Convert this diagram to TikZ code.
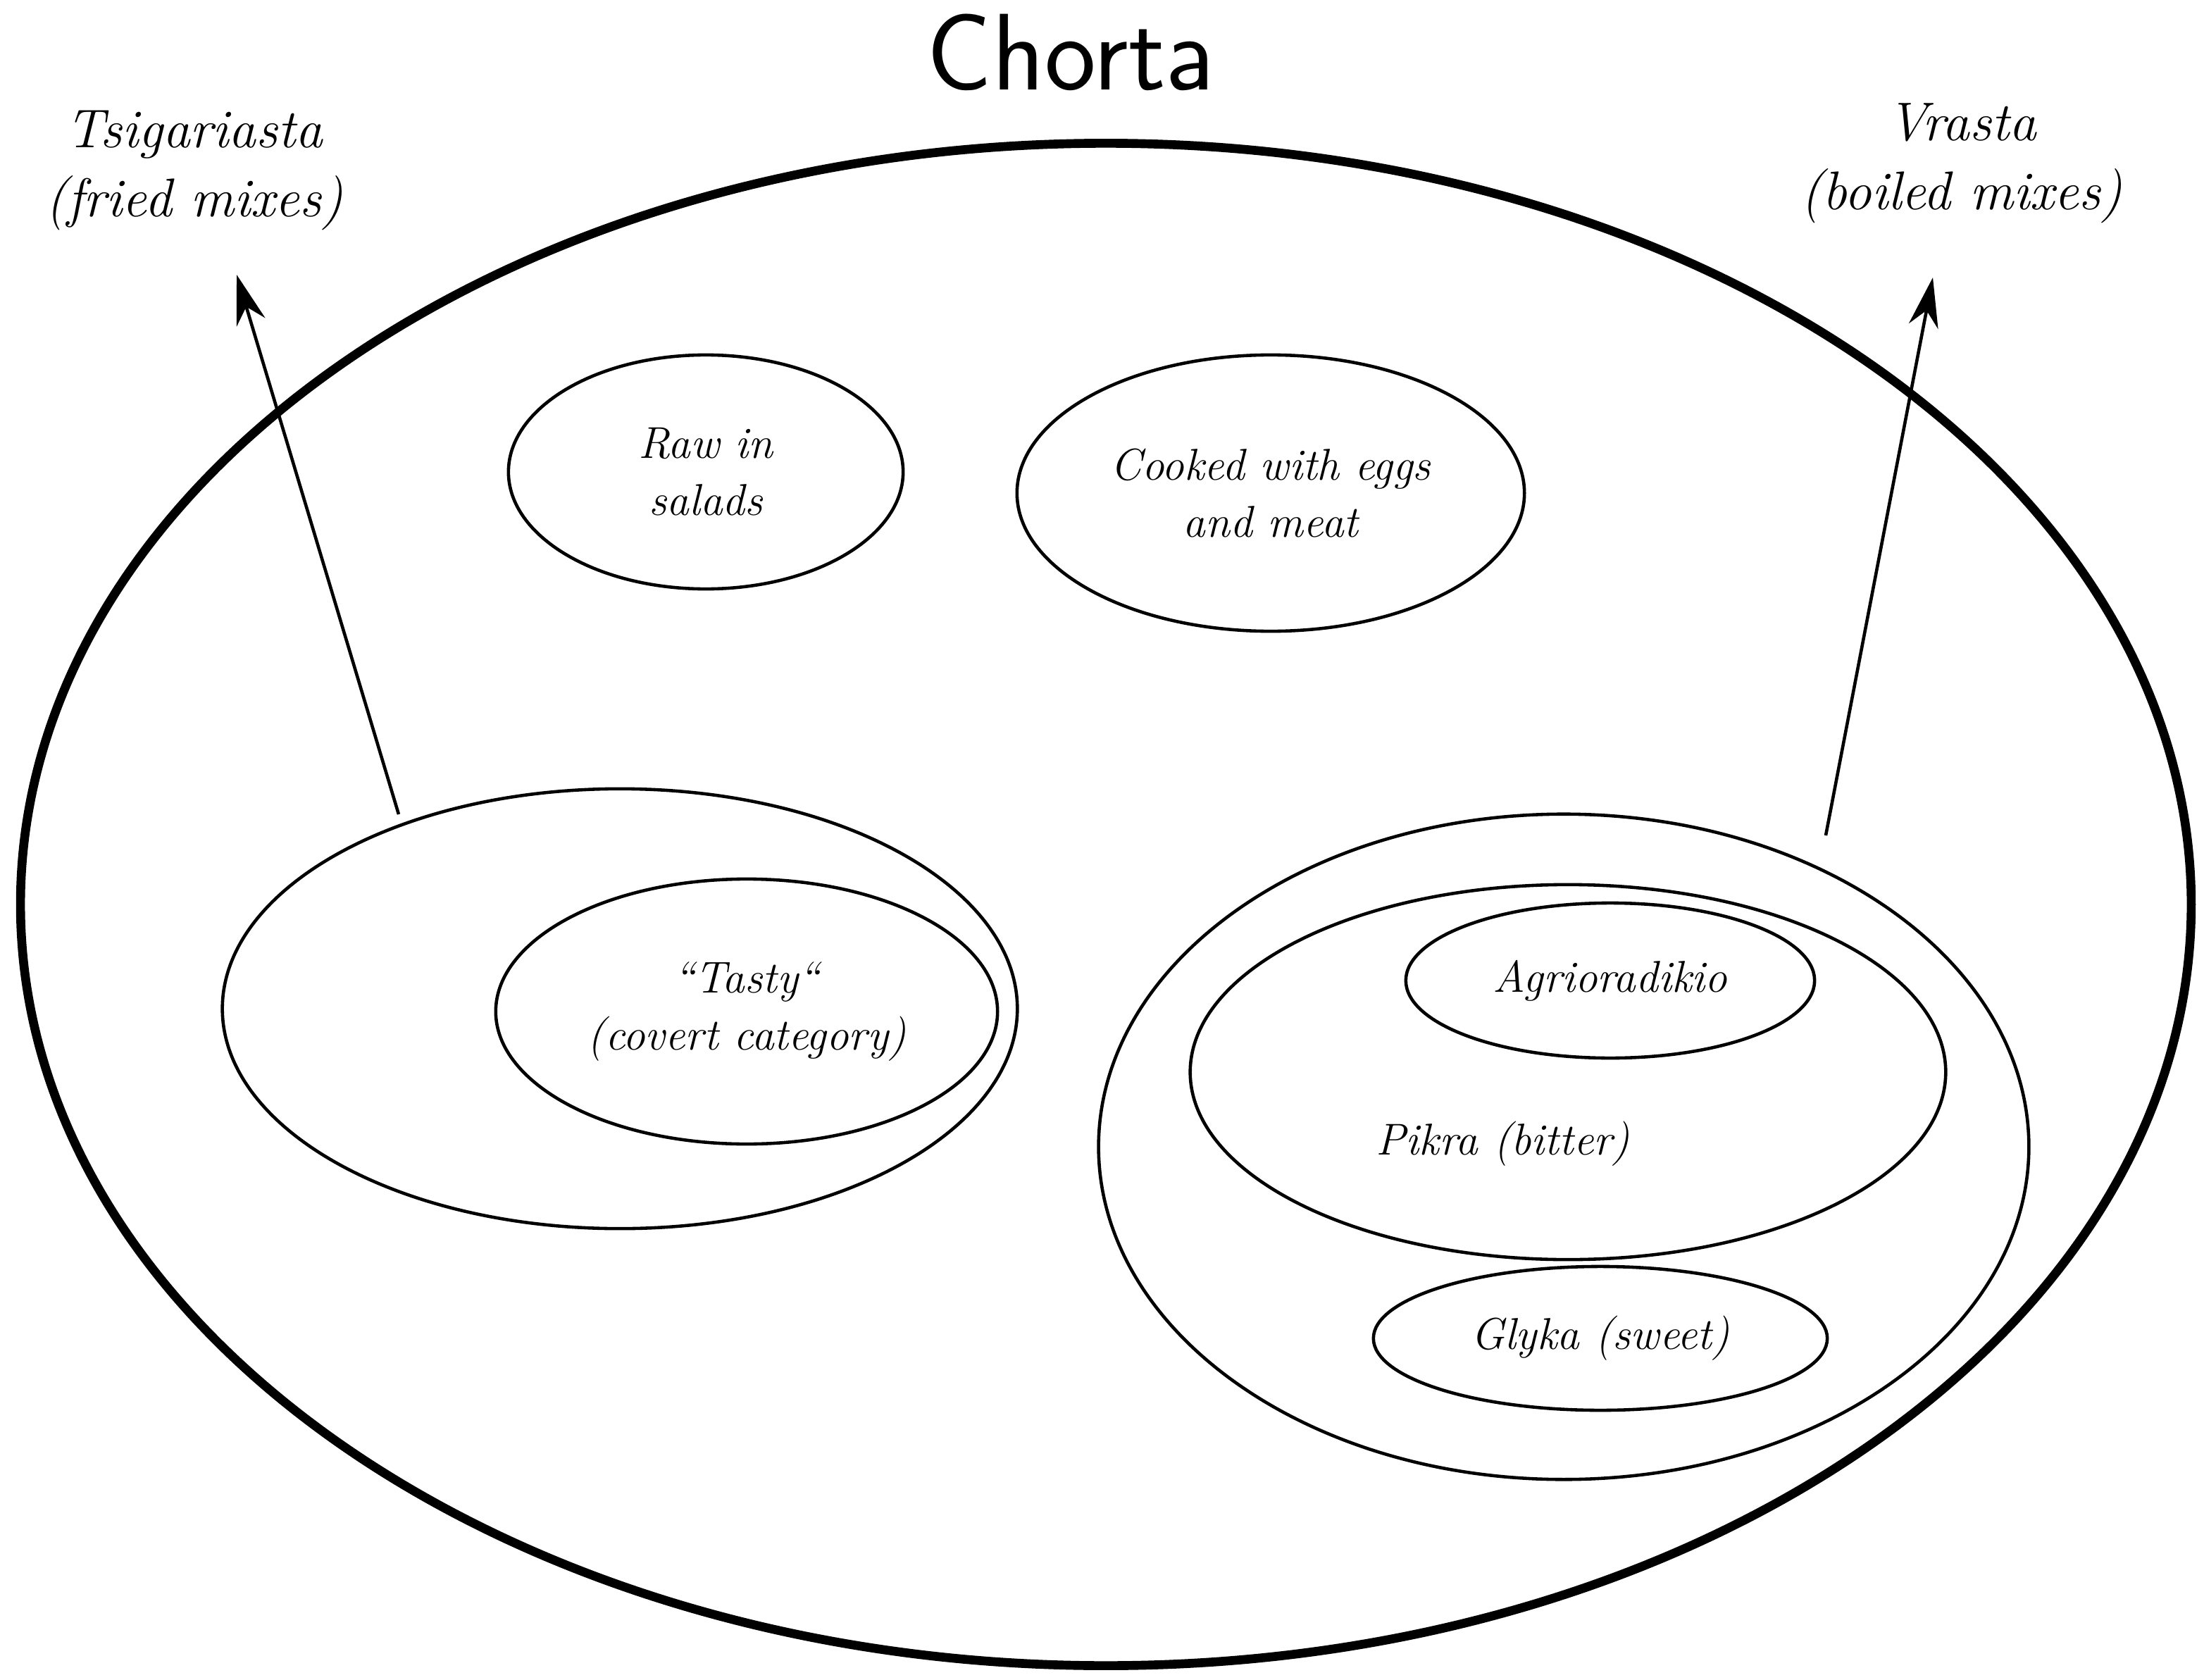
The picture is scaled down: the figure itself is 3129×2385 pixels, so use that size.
\documentclass[tikz,border=0pt]{standalone}
\usepackage{fontspec}
\usetikzlibrary{shapes.geometric,arrows.meta}
\begin{document}
\begin{tikzpicture}[x=0.01cm,y=-0.01cm,
  ell/.style={draw,ellipse,line width=1.3pt,inner sep=0pt,align=center,font=\fontsize{18}{23}\selectfont\itshape},
  lab/.style={align=center,font=\fontsize{22}{28}\selectfont\itshape},
  arr/.style={line width=1.3pt,-{Stealth[length=20pt,width=12pt]}}]
\useasboundingbox (0,0) rectangle (3129,2385);
\node[font=\fontsize{44}{50}\selectfont\sffamily] (title) at (1520,74) {Chorta};
\node[draw,ellipse,line width=3.6pt,inner sep=0pt,minimum width=30.8cm,minimum height=21.6cm] (big) at (1570,1284) {};
\node[lab] (ts) at (276,242) {Tsigariasta\\(fried mixes)};
\node[lab] (vr) at (2785,232) {Vrasta\\(boiled mixes)};
\node[ell,minimum width=5.6cm,minimum height=3.32cm] (raw) at (1002,670) {Raw in\\salads};
\node[ell,minimum width=7.2cm,minimum height=3.92cm] (cook) at (1804,700) {Cooked with eggs\\and meat};
\node[ell,minimum width=11.28cm,minimum height=6.24cm] (fried) at (880,1432) {};
\node[ell,minimum width=7.12cm,minimum height=3.76cm] (tasty) at (1060,1436) {``Tasty``\\(covert category)};
\node[ell,minimum width=13.2cm,minimum height=9.44cm] (boil) at (2220,1628) {};
\node[ell,minimum width=10.72cm,minimum height=5.32cm] (pikra) at (2226,1522) {};
\node[font=\fontsize{18}{23}\selectfont\itshape] (pikralab) at (2134,1624) {Pikra (bitter)};
\node[ell,minimum width=5.8cm,minimum height=2.2cm] (agrio) at (2286,1392) {Agrioradikio};
\node[ell,minimum width=6.44cm,minimum height=2.04cm] (glyka) at (2272,1900) {Glyka (sweet)};
\coordinate (a1) at (566,1156);
\coordinate (a1e) at (336,390);
\coordinate (a2) at (2592,1186);
\coordinate (a2e) at (2744,394);
\draw[arr] (a1) -- (a1e);
\draw[arr] (a2) -- (a2e);
\end{tikzpicture}
\end{document}
